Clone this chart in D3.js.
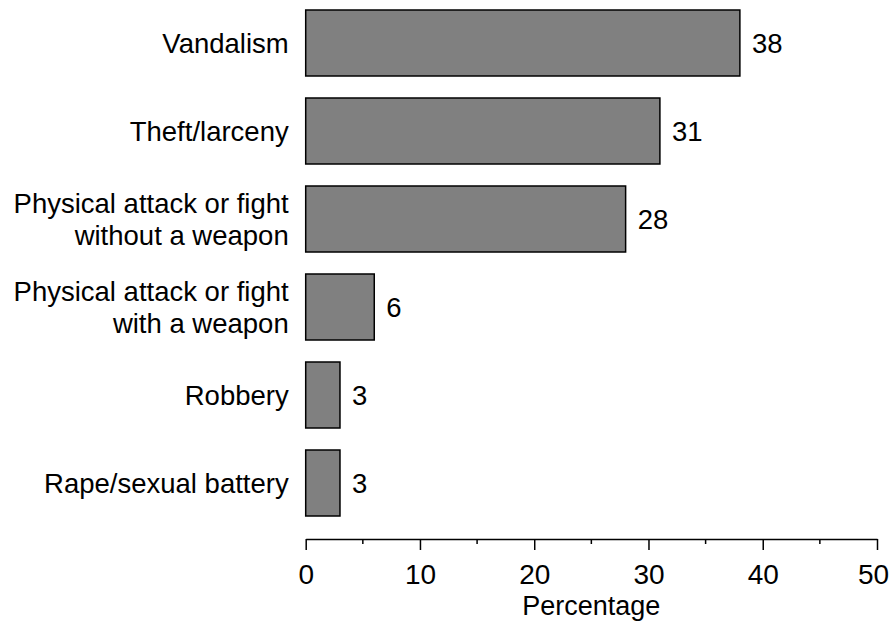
<!DOCTYPE html>
<html>
<head>
<meta charset="utf-8">
<script src="https://cdn.jsdelivr.net/npm/d3@7"></script>
<style>
  body { margin: 0; background: #fff; }
  svg text { font-family: "Liberation Sans", Arial, sans-serif; fill: #000; }
</style>
</head>
<body>
<svg id="chart" width="890" height="626"></svg>
<script>
var categories = [
  ["Vandalism"],
  ["Theft/larceny"],
  ["Physical attack or fight", "without a weapon"],
  ["Physical attack or fight", "with a weapon"],
  ["Robbery"],
  ["Rape/sexual battery"]
]
var values = [38, 31, 28, 6, 3, 3]
var majorTicks = [0, 10, 20, 30, 40, 50]
var minorTicks = [5, 15, 25, 35, 45]

var svg = d3.select("#chart")
var fontSize = 27.5

var x = d3.scaleLinear().domain([0, 50]).range([305.7, 877])
var y = d3.scaleBand()
    .domain(d3.range(values.length))
    .range([10, 516])
    .paddingInner(0.25)
    .paddingOuter(0)

var axisY = 539

// bars
svg.selectAll("rect.bar")
  .data(values)
  .enter().append("rect")
    .attr("class", "bar")
    .attr("x", x(0))
    .attr("y", function(d, i) { return y(i) })
    .attr("width", function(d) { return x(d) - x(0) })
    .attr("height", y.bandwidth())
    .attr("fill", "#808080")
    .attr("stroke", "#000")
    .attr("stroke-width", 1.5)

// value labels
svg.selectAll("text.val")
  .data(values)
  .enter().append("text")
    .attr("class", "val")
    .attr("x", function(d) { return x(d) + 12 })
    .attr("y", function(d, i) { return y(i) + y.bandwidth() / 2 })
    .attr("dy", "0.36em")
    .style("font-size", fontSize + "px")
    .text(function(d) { return d })

// category labels
var lineH = 32
categories.forEach(function(lines, i) {
  var cy = y(i) + y.bandwidth() / 2
  var t = svg.append("text")
    .attr("text-anchor", "end")
    .style("font-size", fontSize + "px")
  lines.forEach(function(s, j) {
    t.append("tspan")
      .attr("x", x(0) - 17)
      .attr("y", cy + (j - (lines.length - 1) / 2) * lineH)
      .attr("dy", "0.36em")
      .text(s)
  })
})

// x axis
var axis = svg.append("g")
    .attr("transform", "translate(0," + axisY + ")")
    .call(d3.axisBottom(x).tickValues(majorTicks).tickSize(11).tickPadding(14).tickSizeOuter(0))
axis.select(".domain").attr("stroke-width", 1.5)
axis.selectAll(".tick line").attr("stroke-width", 1.5)
axis.selectAll(".tick text")
    .style("font-size", "28px")
    .attr("dy", "0.71em")
    .attr("dx", function(d) { return d === 50 ? -4 : 0 })

svg.append("g")
    .attr("transform", "translate(0," + axisY + ")")
  .selectAll("line")
  .data(minorTicks)
  .enter().append("line")
    .attr("x1", function(d) { return x(d) })
    .attr("x2", function(d) { return x(d) })
    .attr("y1", 0)
    .attr("y2", 5)
    .attr("stroke", "#000")
    .attr("stroke-width", 1.5)

svg.append("text")
    .attr("x", (x(0) + x(50)) / 2)
    .attr("y", 615)
    .attr("text-anchor", "middle")
    .style("font-size", "27px")
    .text("Percentage")
</script>
</body>
</html>
